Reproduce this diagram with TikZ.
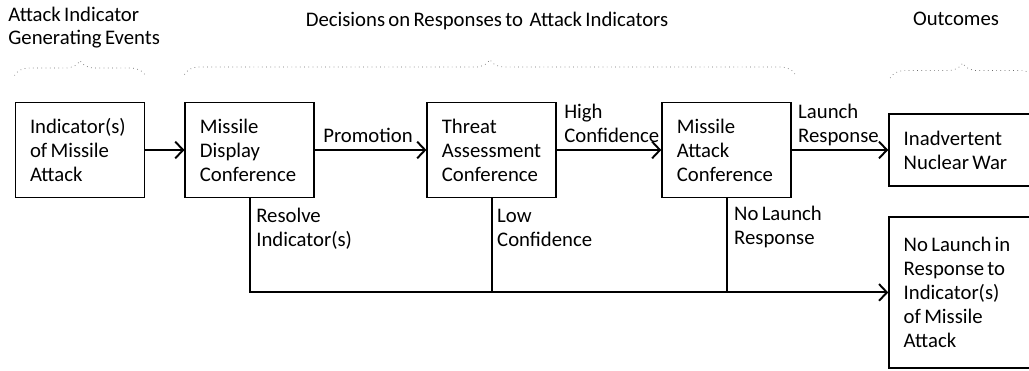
\documentclass[tikz,border=0pt]{standalone}
\usepackage{fontspec}
\setmainfont{Carlito}[WordSpace=0.7]
\usepackage{tikz}
\usetikzlibrary{arrows.meta,positioning,decorations.pathreplacing}

\begin{document}
\begin{tikzpicture}[
    every node/.style={font=\fontsize{11.8}{13.6}\selectfont},
    box/.style={rectangle, draw, line width=1.1pt, align=flush left, inner xsep=0.29cm, inner ysep=0pt, text width=#1},
    box/.default=2cm,
    lbl/.style={align=flush left, inner sep=0pt, anchor=base west},
    arrow/.style={line width=1.1pt, -{Straight Barb[length=4.5pt, width=9.5pt]}},
    line/.style={line width=1.1pt},
    grouping/.style={draw=gray!85!black, dotted, thin, decorate, decoration={brace, amplitude=0.3cm}}
]
\useasboundingbox (0,0) rectangle (20.58,-7.42);

% Headers
\node[lbl] (events_head) at (0.16,-0.9) {Attack Indicator\\Generating Events};
\node[lbl, anchor=base] (decisions_head) at (9.74,-0.54) {Decisions on Responses to~ Attack Indicators};
\node[lbl, anchor=base] (outcomes_head) at (19.12,-0.52) {Outcomes};

% Decision flow
\node[box, minimum height=1.9cm] (indicator) at (1.6,-3.0) {Indicator(s)\\of Missile\\Attack};
\node[box, minimum height=1.9cm, right=0.78cm of indicator] (display_conf) {Missile\\Display\\Conference};
\node[box, minimum height=1.9cm, right=2.22cm of display_conf] (threat_conf) {Threat\\Assessment\\Conference};
\node[box, minimum height=1.9cm, right=2.08cm of threat_conf] (attack_conf) {Missile\\Attack\\Conference};
\node[box=2.42cm, minimum height=1.44cm, right=1.92cm of attack_conf] (nuclear_war) {Inadvertent\\Nuclear War};
\node[box=2.42cm, minimum height=3.02cm, below=0.58cm of nuclear_war] (no_launch) {No Launch in\\Response to\\Indicator(s)\\of Missile\\Attack};

% Braces
\draw[grouping] ([yshift=0.52cm]indicator.north west) -- ([yshift=0.52cm]indicator.north east);
\draw[grouping] ([yshift=0.54cm]display_conf.north west) -- ([xshift=0.06cm, yshift=0.54cm]attack_conf.north east);
\draw[grouping] ([xshift=0.04cm, yshift=0.7cm]nuclear_war.north west) -- ([xshift=0.04cm, yshift=0.7cm]nuclear_war.north west -| 20.66,0);

% Connections
\draw[arrow] (indicator) -- (display_conf);
\draw[arrow] (display_conf) -- node[lbl, pos=0, xshift=0.14cm, yshift=0.16cm] {Promotion} (threat_conf);
\draw[arrow] (threat_conf) -- node[lbl, pos=0, xshift=0.12cm, yshift=0.16cm] {High\\Confidence} (attack_conf);
\draw[arrow] (attack_conf) -- node[lbl, pos=0, xshift=0.1cm, yshift=0.16cm] {Launch\\Response} (nuclear_war);
\draw[arrow] (display_conf.south) |- (no_launch.west);
\draw[line] (threat_conf.south) -- (threat_conf.south |- no_launch.west);
\draw[line] (attack_conf.south) -- (attack_conf.south |- no_launch.west);

% Branch labels
\node[lbl, xshift=0.12cm, yshift=-0.96cm] (resolve_lbl) at (display_conf.south) {Resolve\\Indicator(s)};
\node[lbl, xshift=0.1cm, yshift=-0.96cm] (low_lbl) at (threat_conf.south) {Low\\Confidence};
\node[lbl, xshift=0.14cm, yshift=-0.92cm] (nolaunch_lbl) at (attack_conf.south) {No Launch\\Response};

\end{tikzpicture}
\end{document}
